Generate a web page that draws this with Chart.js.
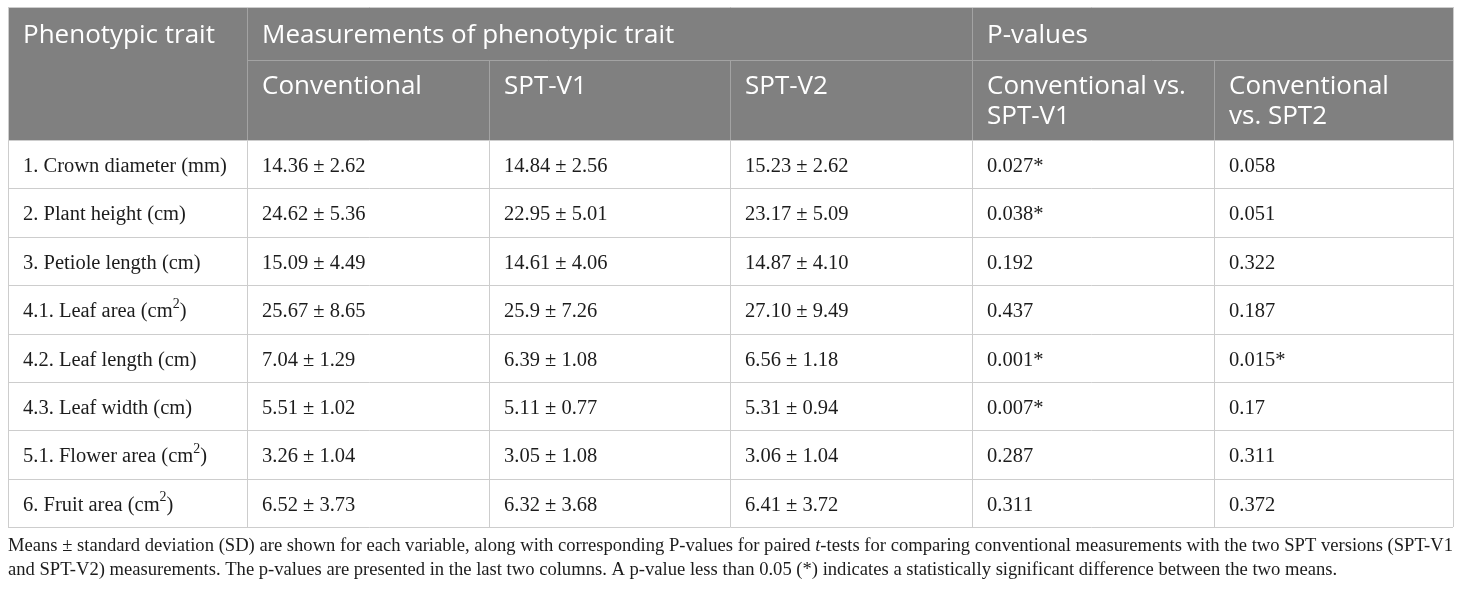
<!DOCTYPE html>
<html>
<head>
<meta charset="utf-8">
<title>Phenotypic traits: conventional vs SPT</title>
<script src="https://cdn.jsdelivr.net/npm/chart.js@4/dist/chart.umd.min.js"></script>
<style>
  html, body { margin: 0; padding: 0; background: #ffffff; }
  canvas { display: block; }
</style>
</head>
<body>
<canvas id="tableChart" width="1460" height="589"></canvas>
<script>
// --- Table data ---
const groupHeaders = ['Phenotypic trait', 'Measurements of phenotypic trait', 'P-values'];
const groupSpans = [1, 3, 2];
const subHeaders = ['Conventional', 'SPT-V1', 'SPT-V2', 'Conventional vs.\nSPT-V1', 'Conventional\nvs. SPT2'];

const traits = [
    '1. Crown diameter (mm)',
    '2. Plant height (cm)',
    '3. Petiole length (cm)',
    '4.1. Leaf area (cm²)',
    '4.2. Leaf length (cm)',
    '4.3. Leaf width (cm)',
    '5.1. Flower area (cm²)',
    '6. Fruit area (cm²)'
];
const conventional = ['14.36 ± 2.62', '24.62 ± 5.36', '15.09 ± 4.49', '25.67 ± 8.65', '7.04 ± 1.29', '5.51 ± 1.02', '3.26 ± 1.04', '6.52 ± 3.73'];
const sptV1 = ['14.84 ± 2.56', '22.95 ± 5.01', '14.61 ± 4.06', '25.9 ± 7.26', '6.39 ± 1.08', '5.11 ± 0.77', '3.05 ± 1.08', '6.32 ± 3.68'];
const sptV2 = ['15.23 ± 2.62', '23.17 ± 5.09', '14.87 ± 4.10', '27.10 ± 9.49', '6.56 ± 1.18', '5.31 ± 0.94', '3.06 ± 1.04', '6.41 ± 3.72'];
const pConvV1 = ['0.027*', '0.038*', '0.192', '0.437', '0.001*', '0.007*', '0.287', '0.311'];
const pConvV2 = ['0.058', '0.051', '0.322', '0.187', '0.015*', '0.17', '0.311', '0.372'];

// footnote, _x_ marks italic
const footLines = [
    'Means ± standard deviation (SD) are shown for each variable, along with corresponding P-values for paired _t_-tests for comparing conventional measurements with the two SPT versions (SPT-V1',
    'and SPT-V2) measurements. The p-values are presented in the last two columns. A p-value less than 0.05 (*) indicates a statistically significant difference between the two means.'
];

// --- Layout (scale units) ---
const colEdges = [0, 239, 481, 722, 964, 1206, 1445];
const headRowHeights = [53, 80];
const dataRowHeight = 48.375;

const HEAD_FONT = '"Open Sans", sans-serif';
const BODY_FONT = '"Liberation Serif", "Times New Roman", serif';
const HEAD_BG = '#808080';
const HEAD_LINE = '#a3a3a3';
const BODY_LINE = '#cdcdcd';
const TEXT = '#1c1c1c';

function rowEdges() {
    const e = [0];
    headRowHeights.forEach(h => e.push(e[e.length - 1] + h));
    traits.forEach(() => e.push(e[e.length - 1] + dataRowHeight));
    return e;
}

function snap(v) { return Math.round(v) + 0.5; }

// draws text, rendering ² as a raised small 2
function drawRich(ctx, text, x, y, size) {
    let cx = x;
    for (const ch of text) {
        if (ch === '²') {
            ctx.font = (size * 0.68) + 'px ' + BODY_FONT;
            ctx.fillText('2', cx, y - size * 0.45);
            cx += ctx.measureText('2').width;
            ctx.font = size + 'px ' + BODY_FONT;
        } else {
            ctx.fillText(ch, cx, y);
            cx += ctx.measureText(ch).width;
        }
    }
}

function parseRuns(word) {
    // split into [text, italic] runs by underscores
    const parts = word.split('_');
    return parts.map((p, i) => [p, i % 2 === 1]).filter(r => r[0].length);
}

function drawFootLine(ctx, line, x, y, width, justify, size) {
    const words = line.split(' ');
    const setFont = it => { ctx.font = (it ? 'italic ' : '') + size + 'px ' + BODY_FONT; };
    const wordW = words.map(w => parseRuns(w).reduce((s, r) => { setFont(r[1]); return s + ctx.measureText(r[0]).width; }, 0));
    setFont(false);
    let gap = ctx.measureText(' ').width;
    if (justify) {
        const sum = wordW.reduce((a, b) => a + b, 0);
        gap = (width - sum) / (words.length - 1);
    }
    let cx = x;
    words.forEach((w, i) => {
        parseRuns(w).forEach(r => {
            setFont(r[1]);
            ctx.fillText(r[0], cx, y);
            cx += ctx.measureText(r[0]).width;
        });
        cx += gap;
    });
}

const tablePlugin = {
    id: 'tableCells',
    afterDraw(chart) {
        const ctx = chart.ctx;
        const xs = chart.scales.x, ys = chart.scales.y;
        const X = i => xs.getPixelForValue(colEdges[i]);
        const edges = rowEdges();
        const Y = i => ys.getPixelForValue(edges[i]);
        const left = X(0), right = X(6);

        ctx.save();
        // header background
        ctx.fillStyle = HEAD_BG;
        ctx.fillRect(left, Y(0), right - left, Y(2) - Y(0));

        // header lines
        ctx.strokeStyle = HEAD_LINE;
        ctx.lineWidth = 1;
        ctx.beginPath();
        // line under group headers (not under first column)
        ctx.moveTo(X(1), snap(Y(1))); ctx.lineTo(right, snap(Y(1)));
        // group separators span both header rows
        [1, 4].forEach(c => { ctx.moveTo(snap(X(c)), Y(0)); ctx.lineTo(snap(X(c)), Y(2)); });
        // sub-column separators only on second header row
        [2, 3, 5].forEach(c => { ctx.moveTo(snap(X(c)), Y(1)); ctx.lineTo(snap(X(c)), Y(2)); });
        ctx.stroke();

        // body grid
        ctx.strokeStyle = BODY_LINE;
        ctx.beginPath();
        for (let r = 2; r <= edges.length - 1; r++) {
            ctx.moveTo(left, snap(Y(r))); ctx.lineTo(right, snap(Y(r)));
        }
        for (let c = 0; c <= 6; c++) {
            ctx.moveTo(snap(X(c)), Y(2)); ctx.lineTo(snap(X(c)), Y(edges.length - 1));
        }
        // outer border around header
        ctx.moveTo(left, snap(Y(0))); ctx.lineTo(right, snap(Y(0)));
        ctx.moveTo(snap(left), Y(0)); ctx.lineTo(snap(left), Y(2));
        ctx.moveTo(snap(right), Y(0)); ctx.lineTo(snap(right), Y(2));
        ctx.stroke();

        // header text
        const pad = 15;
        ctx.fillStyle = '#ffffff';
        ctx.textBaseline = 'alphabetic';
        ctx.textAlign = 'left';
        ctx.font = '26px ' + HEAD_FONT;
        let c = 0;
        groupHeaders.forEach((h, i) => {
            ctx.fillText(h, X(c) + pad, Y(0) + 36);
            c += groupSpans[i];
        });
        subHeaders.forEach((h, i) => {
            h.split('\n').forEach((ln, k) => {
                ctx.fillText(ln, X(i + 1) + pad, Y(1) + 34 + k * 30);
            });
        });

        // body text
        ctx.fillStyle = TEXT;
        const size = 20.5;
        ctx.font = size + 'px ' + BODY_FONT;
        const cols = [traits, conventional, sptV1, sptV2, pConvV1, pConvV2];
        traits.forEach((t, r) => {
            const base = Y(r + 2) + 32;
            cols.forEach((arr, ci) => {
                drawRich(ctx, arr[r], X(ci) + pad, base, size);
            });
        });

        // footnote
        ctx.fillStyle = TEXT;
        const fb = Y(edges.length - 1);
        drawFootLine(ctx, footLines[0], left, fb + 24, right - left, true, 18.6);
        drawFootLine(ctx, footLines[1], left, fb + 48, right - left, false, 18.6);
        ctx.restore();
    }
};

new Chart(document.getElementById('tableChart'), {
    type: 'scatter',
    data: { datasets: [] },
    options: {
        responsive: false,
        animation: false,
        layout: { padding: { left: 8, right: 7, top: 7, bottom: 62 } },
        plugins: {
            legend: { display: false },
            tooltip: { enabled: false }
        },
        scales: {
            x: { type: 'linear', min: 0, max: colEdges[colEdges.length - 1], display: false },
            y: { type: 'linear', min: 0, max: rowEdges()[rowEdges().length - 1], reverse: true, display: false }
        }
    },
    plugins: [tablePlugin]
});
</script>
</body>
</html>
